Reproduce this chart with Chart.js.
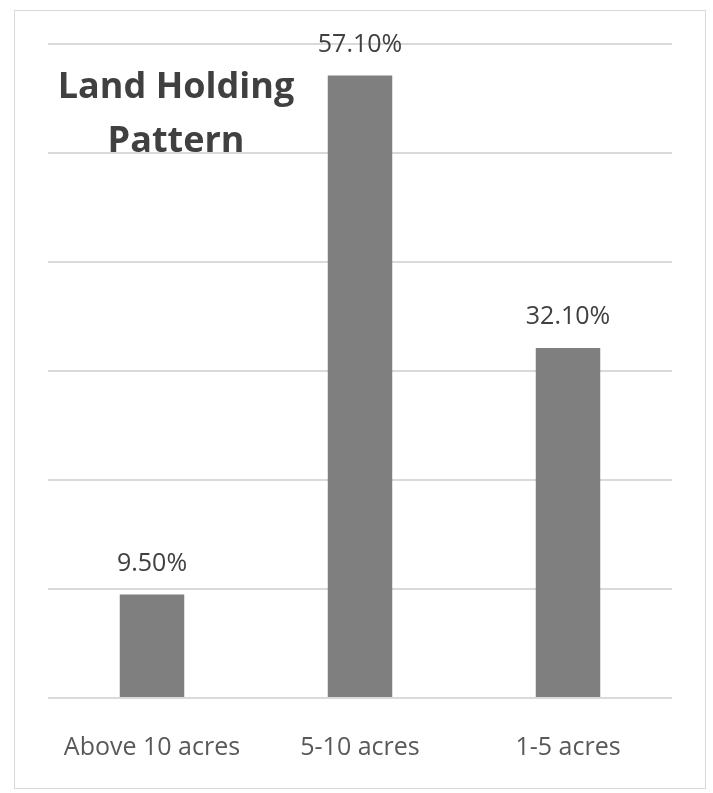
<!DOCTYPE html>
<html>
<head>
<meta charset="utf-8">
<script src="https://cdn.jsdelivr.net/npm/chart.js@4"></script>
<style>
    html, body { margin: 0; padding: 0; background: #fff; }
    #wrap { position: relative; width: 713px; height: 793px; }
    #frame {
        position: absolute; left: 14px; top: 10px; width: 692px; height: 779px;
        border: 1px solid #d9d9d9; box-sizing: border-box;
    }
    canvas { position: absolute; left: 0; top: 0; }
</style>
</head>
<body>
<div id="wrap">
    <div id="frame"></div>
    <canvas id="landChart" width="713" height="793"></canvas>
</div>
<script>
// Данные графика
const categories = ['Above 10 acres', '5-10 acres', '1-5 acres'];
const shares = [9.5, 57.1, 32.1];
const titleLines = ['Land Holding', 'Pattern'];

const fontFamily = "'Open Sans', 'Liberation Sans', sans-serif";

// Подписи значений над столбцами
const valueLabels = {
    id: 'valueLabels',
    afterDatasetsDraw(chart) {
        const ctx = chart.ctx;
        const meta = chart.getDatasetMeta(0);
        ctx.save();
        ctx.font = '25px ' + fontFamily;
        ctx.fillStyle = '#404040';
        ctx.textAlign = 'center';
        ctx.textBaseline = 'middle';
        meta.data.forEach((bar, i) => {
            ctx.fillText(shares[i].toFixed(2) + '%', bar.x, bar.y - 31);
        });
        ctx.restore();
    }
};

// Заголовок поверх области графика
const overlayTitle = {
    id: 'overlayTitle',
    afterDraw(chart) {
        const ctx = chart.ctx;
        ctx.save();
        ctx.font = 'bold 36px ' + fontFamily;
        ctx.fillStyle = '#404040';
        ctx.textAlign = 'center';
        ctx.textBaseline = 'middle';
        titleLines.forEach((line, i) => {
            ctx.fillText(line, 176, 88 + i * 54);
        });
        ctx.restore();
    }
};

const ctx = document.getElementById('landChart').getContext('2d');
const chart = new Chart(ctx, {
    type: 'bar',
    data: {
        labels: categories,
        datasets: [{
            data: shares,
            backgroundColor: '#7f7f7f',
            barPercentage: 0.62,
            categoryPercentage: 0.5
        }]
    },
    options: {
        responsive: false,
        animation: false,
        layout: {
            padding: { left: 48, right: 41, top: 44, bottom: 30 }
        },
        plugins: {
            legend: { display: false },
            tooltip: { enabled: false }
        },
        scales: {
            x: {
                grid: { display: false },
                border: { display: false },
                ticks: {
                    color: '#595959',
                    font: { family: fontFamily, size: 25 },
                    padding: 27,
                    maxRotation: 0
                },
                afterFit(scale) { scale.height = 65; }
            },
            y: {
                min: 0,
                max: 60,
                ticks: { display: false, stepSize: 10 },
                border: { display: false },
                grid: { color: '#d9d9d9', lineWidth: 2, drawTicks: false },
                afterFit(scale) { scale.width = 0; }
            }
        }
    },
    plugins: [valueLabels, overlayTitle]
});
</script>
</body>
</html>
